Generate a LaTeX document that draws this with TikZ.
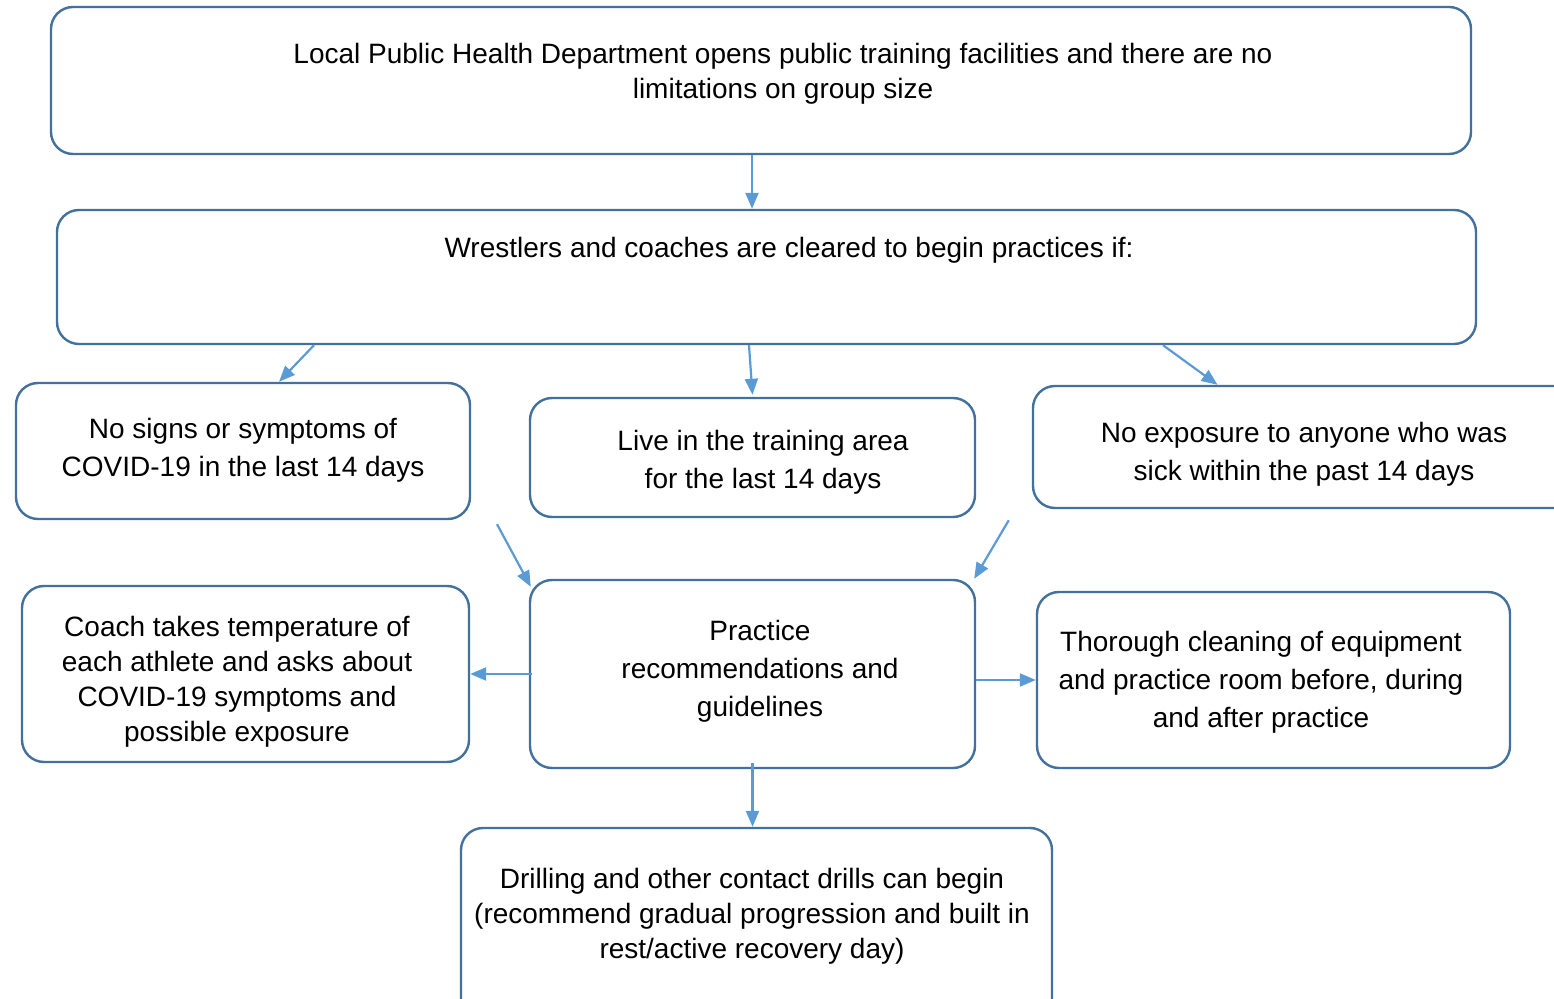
\documentclass[tikz,border=0pt]{standalone}
\usepackage{fontspec}
\setmainfont{Liberation Sans}
\usetikzlibrary{arrows.meta,fit,calc}
\definecolor{boxline}{HTML}{41719C}
\definecolor{arrowblue}{HTML}{5B9BD5}
\tikzset{
  box/.style={draw=boxline, line width=1.2pt, rounded corners=11pt, inner sep=0pt, fill=white},
  txt/.style={align=center, font=\fontsize{14}{17.5}\selectfont, inner sep=0pt},
  arr/.style={draw=arrowblue, line width=1.1pt, -{Triangle[length=8pt,width=6.5pt]}}
}
\begin{document}
\begin{tikzpicture}[x=0.5pt,y=-0.5pt]
\useasboundingbox (0,0) rectangle (1554,999);
\clip (0,0) rectangle (1554,999);
% boxes
\node[box, fit={(51,7)(1471,154)}] (top) {};
\node[box, fit={(57,210)(1476,344)}] (second) {};
\node[box, fit={(16,383)(470,519)}] (nosigns) {};
\node[box, fit={(530,398)(975,517)}] (live) {};
\node[box, fit={(1033,386)(1590,508)}] (noexp) {};
\node[box, fit={(22,586)(469,762)}] (coach) {};
\node[box, fit={(530,580)(975,768)}] (practice) {};
\node[box, fit={(1037,592)(1510,768)}] (thorough) {};
\node[box, fit={(461,828)(1052,1030)}] (drill) {};
% texts
\node[txt] (ttop) at (783,74) {Local Public Health Department opens public training facilities and there are no\\limitations on group size};
\node[txt] (tsecond) at (789,250) {Wrestlers and coaches are cleared to begin practices if:};
\node[txt, font=\fontsize{14}{19}\selectfont] (tnosigns) at (243,450) {No signs or symptoms of\\COVID-19 in the last 14 days};
\node[txt, font=\fontsize{14}{19}\selectfont] (tlive) at (763,462) {Live in the training area\\for the last 14 days};
\node[txt, font=\fontsize{14}{19}\selectfont] (tnoexp) at (1304,454) {No exposure to anyone who was\\sick within the past 14 days};
\node[txt] (tcoach) at (237,681.5) {Coach takes temperature of\\each athlete and asks about\\COVID-19 symptoms and\\possible exposure};
\node[txt, font=\fontsize{14}{19}\selectfont] (tpractice) at (760,671.5) {Practice\\recommendations and\\guidelines};
\node[txt, font=\fontsize{14}{19}\selectfont] (tthorough) at (1261,682) {Thorough cleaning of equipment\\and practice room before, during\\and after practice};
\node[txt] (tdrill) at (752,916) {Drilling and other contact drills can begin\\(recommend gradual progression and built in\\rest/active recovery day)};
% connectors
\draw[arr] ([xshift=-4.5pt]top.south) -- ([xshift=-7.25pt]second.north);
\draw[arr] ([xshift=-226.25pt]second.south) -- ([xshift=18pt]nosigns.north);
\draw[arr] ([xshift=-8.75pt]second.south) -- ([xshift=0pt,yshift=1pt]live.north);
\draw[arr] ([xshift=198.25pt]second.south) -- ([xshift=-47pt]noexp.north);
\draw[arr] ([xshift=127pt,yshift=-2pt]nosigns.south) -- ([xshift=1pt,yshift=-4pt]practice.north west);
\draw[arr] ([xshift=-11.5pt,yshift=-5.5pt]noexp.south west) -- ([xshift=-1pt]practice.north east);
\draw[arr] ([xshift=1.5pt]practice.west) -- (coach.east);
\draw[arr] (practice.east |- thorough.west) -- (thorough.west);
\draw[arr] ([yshift=3pt]practice.south) -- (practice.south |- drill.north);
\end{tikzpicture}
\end{document}
